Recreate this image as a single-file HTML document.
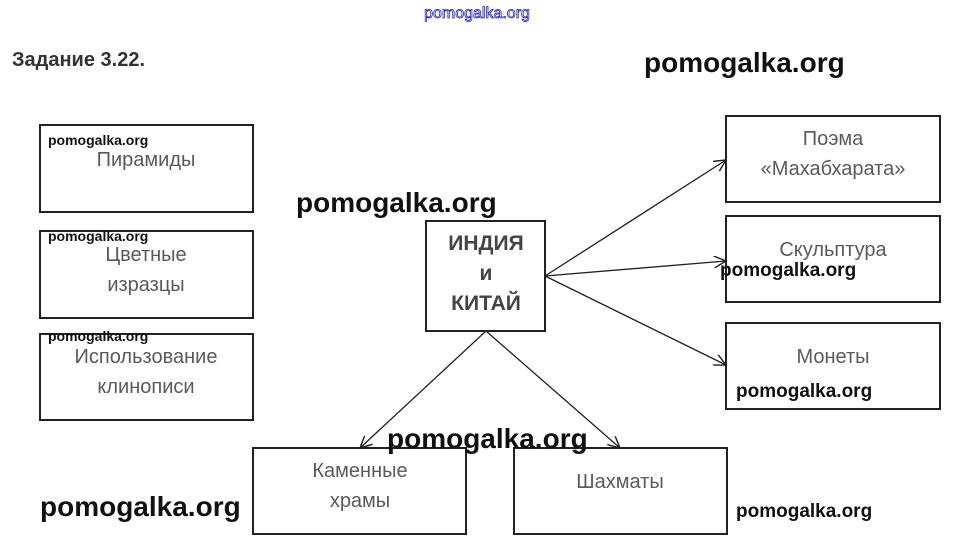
<!DOCTYPE html>
<html><head><meta charset="utf-8"><style>
body{margin:0;background:#fff;}
svg{display:block}
.t{font-family:"Liberation Sans",sans-serif;font-size:20px;fill:#5a5a5a;text-anchor:middle}
.w{font-family:"Liberation Sans",sans-serif;font-weight:bold;fill:#111}
</style></head><body>
<svg width="953" height="553" viewBox="0 0 953 553">
<defs><marker id="a" viewBox="0 0 10 10" refX="10" refY="5" markerWidth="12" markerHeight="12" orient="auto" markerUnits="userSpaceOnUse"><path d="M0,0 L10,5 L0,10" fill="none" stroke="#222" stroke-width="1.2"/></marker></defs>
<text x="477" y="18" font-family="Liberation Sans,sans-serif" font-size="16" fill="none" stroke="#2222cc" stroke-width="0.8" text-anchor="middle">pomogalka.org</text>
<text x="12" y="66" font-family="Liberation Sans,sans-serif" font-size="20" font-weight="bold" fill="#333">Задание 3.22.</text>
<g fill="none" stroke="#222" stroke-width="2">
<rect x="40" y="125" width="213" height="87"/>
<rect x="40" y="231" width="213" height="87"/>
<rect x="40" y="334" width="213" height="86"/>
<rect x="426" y="221" width="119" height="110"/>
<rect x="726" y="116" width="214" height="86"/>
<rect x="726" y="216" width="214" height="86"/>
<rect x="726" y="323" width="214" height="86"/>
<rect x="253" y="448" width="213" height="86"/>
<rect x="514" y="448" width="213" height="86"/>
</g>
<g stroke="#222" stroke-width="1.3" marker-end="url(#a)">
<line x1="545" y1="276" x2="726" y2="160"/>
<line x1="545" y1="276" x2="726" y2="261"/>
<line x1="545" y1="276" x2="726" y2="365"/>
<line x1="486" y1="331" x2="360" y2="448"/>
<line x1="486" y1="331" x2="620" y2="448"/>
</g>
<text class="t" x="146" y="166">Пирамиды</text>
<text class="t" x="146" y="261">Цветные</text><text class="t" x="146" y="291">изразцы</text>
<text class="t" x="146" y="363">Использование</text><text class="t" x="146" y="393">клинописи</text>
<text class="t" x="833" y="145">Поэма</text><text class="t" x="833" y="175">«Махабхарата»</text>
<text class="t" x="833" y="256">Скульптура</text>
<text class="t" x="833" y="363">Монеты</text>
<text class="t" x="360" y="477">Каменные</text><text class="t" x="360" y="507">храмы</text>
<text class="t" x="620" y="488">Шахматы</text>
<g font-family="Liberation Sans,sans-serif" font-weight="bold" font-size="21" fill="#444" text-anchor="middle">
<text x="486" y="250">ИНДИЯ</text><text x="486" y="280">и</text><text x="486" y="310">КИТАЙ</text></g>
<text class="w" x="644" y="72" font-size="28">pomogalka.org</text>
<text class="w" x="296" y="212" font-size="28">pomogalka.org</text>
<text class="w" x="387" y="448" font-size="28">pomogalka.org</text>
<text class="w" x="40" y="516" font-size="28">pomogalka.org</text>
<text class="w" x="48" y="145" font-size="14">pomogalka.org</text>
<text class="w" x="48" y="241" font-size="14">pomogalka.org</text>
<text class="w" x="48" y="341" font-size="14">pomogalka.org</text>
<text class="w" x="720" y="276" font-size="19">pomogalka.org</text>
<text class="w" x="736" y="397" font-size="19">pomogalka.org</text>
<text class="w" x="736" y="517" font-size="19">pomogalka.org</text>
</svg>
</body></html>
